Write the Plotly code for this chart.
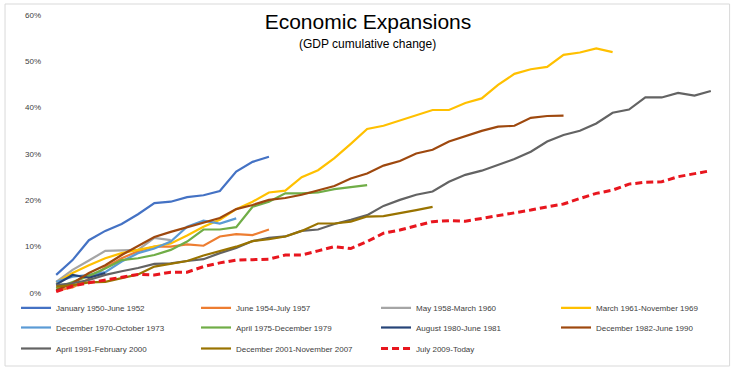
import plotly.graph_objects as go

# GDP cumulative change (%) by quarter since start of expansion
names = [
    "January 1950-June 1952", "June 1954-July 1957", "May 1958-March 1960",
    "March 1961-November 1969", "December 1970-October 1973", "April 1975-December 1979",
    "August 1980-June 1981", "December 1982-June 1990", "April 1991-February 2000",
    "December 2001-November 2007", "July 2009-Today",
]
s1950 = [3.9, 7.1, 11.4, 13.4, 14.9, 17.0, 19.4, 19.7, 20.7, 21.1, 22.0, 26.2, 28.3, 29.4]
s1954 = [0.5, 1.2, 3.0, 5.5, 7.5, 9.0, 10.0, 10.0, 10.5, 10.2, 12.2, 12.7, 12.5, 13.7]
s1958 = [2.4, 5.0, 7.0, 9.1, 9.2, 9.3, 11.9, 11.4]
s1961 = [2.2, 4.3, 6.0, 7.5, 8.6, 9.3, 10.1, 10.7, 12.4, 14.3, 15.8, 18.1, 19.7, 21.7, 22.1,
         25.0, 26.5, 29.1, 32.2, 35.4, 36.1, 37.2, 38.3, 39.5, 39.5, 41.0, 42.0, 44.9, 47.3,
         48.3, 48.8, 51.4, 51.9, 52.8, 52.0]
s1970 = [2.4, 3.5, 3.9, 4.5, 6.8, 8.6, 9.6, 11.1, 14.3, 15.6, 15.0, 16.1]
s1975 = [1.0, 2.4, 3.7, 5.3, 7.1, 7.5, 8.2, 9.3, 11.1, 13.7, 13.7, 14.2, 18.6, 19.7, 21.5,
         21.5, 21.7, 22.4, 22.9, 23.3]
s1980 = [1.8, 3.9, 3.3, 4.3]
s1982 = [0.6, 2.1, 4.3, 6.0, 8.2, 10.1, 12.1, 13.2, 14.2, 15.1, 16.2, 18.1, 19.0, 20.1, 20.5,
         21.2, 22.2, 23.1, 24.7, 25.8, 27.5, 28.5, 30.1, 30.9, 32.7, 33.9, 35.0, 35.9, 36.1,
         37.8, 38.2, 38.3]
s1991 = [1.7, 2.1, 2.8, 3.9, 4.7, 5.4, 6.3, 6.4, 6.9, 7.3, 8.6, 9.7, 11.2, 11.9, 12.2, 13.4,
         13.7, 14.9, 15.8, 16.8, 18.8, 20.1, 21.2, 21.9, 24.0, 25.5, 26.4, 27.6, 28.9, 30.5,
         32.7, 34.1, 35.0, 36.6, 38.9, 39.6, 42.2, 42.2, 43.2, 42.6, 43.6]
s2001 = [1.4, 1.7, 2.3, 2.4, 3.2, 4.0, 5.7, 6.3, 6.9, 8.1, 9.1, 10.0, 11.2, 11.6, 12.2, 13.4,
         15.0, 15.0, 15.4, 16.5, 16.6, 17.2, 17.9, 18.6]
s2009 = [0.3, 1.5, 2.2, 2.8, 3.5, 4.0, 3.9, 4.5, 4.5, 5.7, 6.5, 7.1, 7.2, 7.3, 8.2, 8.2, 9.1,
         10.0, 9.6, 11.1, 12.9, 13.6, 14.5, 15.4, 15.6, 15.5, 16.1, 16.7, 17.2, 17.9, 18.6,
         19.2, 20.4, 21.5, 22.2, 23.5, 23.9, 24.0, 25.1, 25.7, 26.4]
series = [s1950, s1954, s1958, s1961, s1970, s1975, s1980, s1982, s1991, s2001, s2009]
colors = ["#4472C4", "#ED7D31", "#A5A5A5", "#FFC000", "#5B9BD5", "#70AD47",
          "#264478", "#9E480E", "#636363", "#997300", "#E8161E"]
ytick_vals = [0, 10, 20, 30, 40, 50, 60]
ytick_text = ["0%", "10%", "20%", "30%", "40%", "50%", "60%"]

FONT = "Arial, Liberation Sans, sans-serif"
W, H = 736, 370
ML, MR, MT, MB = 48, 16.6, 15, 77

fig = go.Figure()
legend_ids = ["legend"] * 4 + ["legend2"] * 4 + ["legend3"] * 3
for i, (nm, vals, col) in enumerate(zip(names, series, colors)):
    last = i == len(series) - 1
    fig.add_trace(go.Scatter(
        x=list(range(len(vals))), y=vals, name=nm, mode="lines",
        line=dict(color=col, width=3 if last else 2.2,
                  dash="7px,4px" if last else "solid"),
        legend=legend_ids[i], hoverinfo="skip",
    ))

plot_h = H - MT - MB
plot_w = W - ML - MR
def ypaper(yabs):
    return (H - MB - yabs) / plot_h
def xpaper(xabs):
    return (xabs - ML) / plot_w

leg_common = dict(orientation="h", entrywidth=135, entrywidthmode="pixels",
                  x=xpaper(16), xanchor="left", yanchor="top",
                  font=dict(family=FONT, size=8, color="#404040"),
                  bgcolor="rgba(0,0,0,0)", borderwidth=0, itemclick=False)
fig.update_layout(
    width=W, height=H,
    margin=dict(l=ML, r=MR, t=MT, b=MB, autoexpand=False),
    paper_bgcolor="white", plot_bgcolor="white",
    font=dict(family=FONT),
    showlegend=True,
    legend=dict(**leg_common, y=ypaper(293.3)),
    legend2=dict(**leg_common, y=ypaper(313)),
    legend3=dict(**leg_common, y=ypaper(334)),
    title=dict(text="Economic Expansions", x=368 / W, xanchor="center",
               y=1 - 22 / H, yanchor="middle", xref="container", yref="container",
               font=dict(family=FONT, size=21, color="#000000")),
    xaxis=dict(range=[-0.5, 40.5], showgrid=False, zeroline=False, showline=False,
               showticklabels=False, ticks=""),
    yaxis=dict(range=[0, 60], tickmode="array", tickvals=ytick_vals, ticktext=ytick_text,
               showgrid=False, zeroline=False, showline=False, ticks="",
               ticklabelstandoff=6,
               tickfont=dict(family=FONT, size=8, color="#404040")),
    annotations=[dict(text="(GDP cumulative change)", xref="paper", yref="paper",
                      x=xpaper(368), y=ypaper(44), xanchor="center",
                      yanchor="middle", showarrow=False,
                      font=dict(family=FONT, size=12, color="#000000"))],
    shapes=[dict(type="rect", xref="paper", yref="paper",
                 x0=xpaper(5), x1=xpaper(730), y0=ypaper(366), y1=ypaper(4),
                 line=dict(color="#D9D9D9", width=1), fillcolor="rgba(0,0,0,0)",
                 layer="below")],
)
fig.write_html("out.html", config={"displayModeBar": False},
               post_script="document.body.style.margin='0';")
